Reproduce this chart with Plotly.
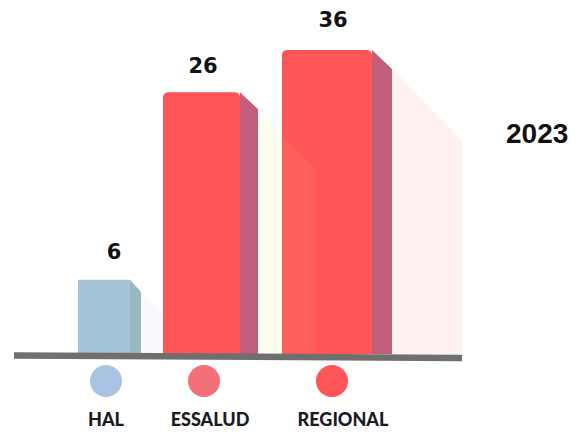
import plotly.graph_objects as go

# Data
categories = ["HAL", "ESSALUD", "REGIONAL"]
values = [6, 26, 36]                # printed value labels
drawn_heights = [8.8, 31.0, 36.0]   # bar heights as drawn (the artwork is not to scale)
year_label = "2023"

# Styles and layout
W, H = 584, 433
PX = 304 / 36            # pixels per unit
BASE_Y = 354
lefts = [78, 163, 282]
widths = [52, 77, 90]
side_w = [11, 18, 20]
side_drop = [12, 17, 19]
shadow_w = [22, 58, 70]
shadow_drop = [22, 61, 71]
front = ["#a5c3d6", "#ff5558", "#ff5558"]
side = ["#9ab8bf", "#c25e7a", "#c25e7a"]
shadow = ["#f8fafd", "rgba(255,217,92,0.08)", "#fff1f1"]
corner = [0, 5, 5]
dot_colors = ["#abc3e3", "#f27076", "#ff5558"]
dot_x = [106, 204, 332]
name_x = [106, 210, 343]
value_x = [114, 203, 333]
value_gap = [26, 24, 28]

fig = go.Figure()

# Pale cast shadows behind, then side faces
for i in range(3):
    x0 = lefts[i] + widths[i]
    x1 = x0 + side_w[i]
    top = drawn_heights[i]
    sd = side_drop[i] / PX
    x2 = x1 + shadow_w[i]
    fig.add_trace(go.Scatter(
        x=[x1, x2, x2, x1, x1],
        y=[top - sd, top - sd - shadow_drop[i] / PX, 0, 0, top - sd],
        mode="lines", line=dict(width=0), fill="toself", fillcolor=shadow[i],
        hoverinfo="skip", showlegend=False))
    fig.add_trace(go.Scatter(
        x=[x0, x1, x1, x0, x0],
        y=[top, top - sd, 0, 0, top],
        mode="lines", line=dict(width=0), fill="toself", fillcolor=side[i],
        hoverinfo="skip", showlegend=False))

# Front faces: one trace per bar, since only the red bars have rounded corners
for i in range(3):
    fig.add_trace(go.Bar(
        x=[lefts[i] + widths[i] / 2],
        y=[drawn_heights[i]],
        width=[widths[i]],
        marker=dict(color=front[i], line=dict(width=0), cornerradius=corner[i]),
        hoverinfo="skip", showlegend=False))

# Value labels
fig.add_trace(go.Scatter(
    x=value_x,
    y=[h + g / PX for h, g in zip(drawn_heights, value_gap)],
    text=[str(v) for v in values],
    mode="text",
    textfont=dict(family="DejaVu Sans", size=21, color="#111111", weight="bold"),
    hoverinfo="skip", showlegend=False))

# Legend dots
dot_level = -27 / PX
fig.add_trace(go.Scatter(
    x=dot_x, y=[dot_level] * 3, mode="markers",
    marker=dict(size=32, color=dot_colors, line=dict(width=0)),
    hoverinfo="skip", showlegend=False))

# Category names
name_level = -67 / PX
fig.add_trace(go.Scatter(
    x=name_x, y=[name_level] * 3, text=categories, mode="text",
    textfont=dict(family="Lato", size=18, color="#1a1a22", weight=900),
    hoverinfo="skip", showlegend=False))

# Ground line
fig.add_shape(type="line", x0=14, x1=462, y0=-1.5 / PX, y1=-4 / PX, xref="x", yref="y",
              line=dict(color="#6f6f6f", width=6.5), layer="above")

fig.add_annotation(x=537, y=(BASE_Y - 133) / PX, text=f"<b>{year_label}</b>", showarrow=False,
                   xref="x", yref="y",
                   font=dict(family="Liberation Sans", size=28, color="#111111"))

fig.update_layout(
    width=W, height=H, margin=dict(l=0, r=0, t=0, b=0), barmode="overlay",
    paper_bgcolor="white", plot_bgcolor="white",
    xaxis=dict(range=[0, W], visible=False, fixedrange=True),
    yaxis=dict(range=[(BASE_Y - H) / PX, BASE_Y / PX], visible=False, fixedrange=True),
)

fig.write_html("out.html", config={"displayModeBar": False},
               post_script="document.body.style.margin='0';")
